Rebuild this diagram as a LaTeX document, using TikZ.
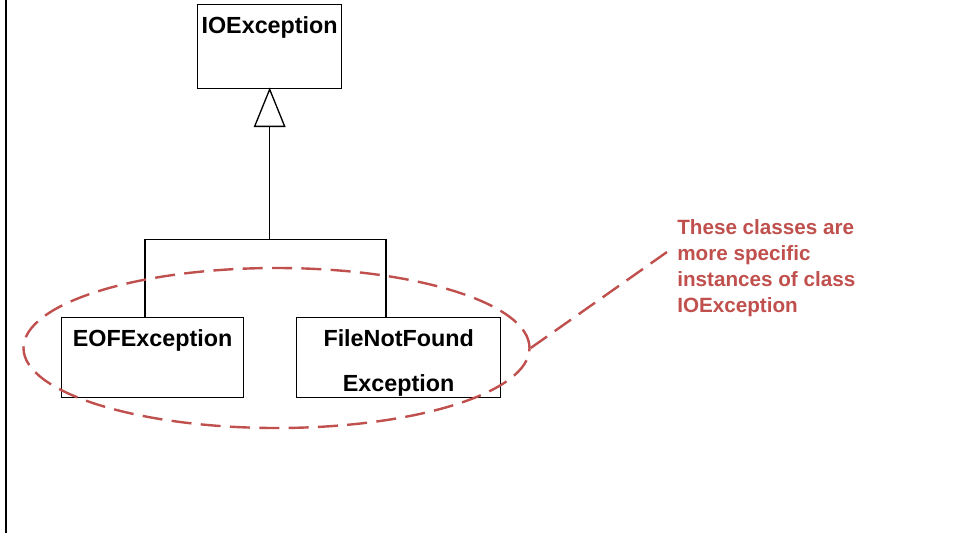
\documentclass[tikz,border=0pt]{standalone}
\usepackage{fontspec}
\setmainfont{Liberation Sans}
\usepackage{xcolor}
\usetikzlibrary{shapes.geometric,calc}
\definecolor{notered}{RGB}{192,80,77}

\begin{document}
\begin{tikzpicture}[x=0.75pt,y=-0.75pt,
  classbox/.style={draw,line width=1pt,inner sep=0pt,anchor=north west,align=center,
    font=\fontsize{17.5}{33.75}\selectfont\bfseries,text height=21.75pt},
  dashred/.style={notered,line width=1.8pt,dash pattern=on 15pt off 7pt}]
\useasboundingbox (0,0) rectangle (953,533);
\draw[line width=2pt] (6,0) -- (6,533);
% classes
\node[classbox,minimum width=108pt,text depth=41.25pt] (io) at (197,4) {IOException};
\node[classbox,minimum width=136.5pt,text depth=38.25pt] (eof) at (61,317) {EOFException};
\node[classbox,minimum width=153pt,text height=55.5pt,text depth=4.5pt] (fnf) at (296,317) {FileNotFound\\Exception};
% inheritance
\draw[line width=1pt] (io.south) -- ++(-15,37) -- ++(30,0) -- cycle;
\draw[line width=1pt] ($(io.south)+(0,37)$) -- ++(0,113) coordinate (fork);
\draw[line width=1pt] ($(eof.north west)+(84,0)$) |- (fork) -| ($(fnf.north west)+(90,0)$);
% note
\node[dashred,draw,ellipse,minimum width=379.5pt,minimum height=120pt,inner sep=0pt] (grp) at (276.5,348) {};
\node[notered,font=\fontsize{15.5}{19.5}\selectfont\bfseries,align=left,anchor=north west,inner sep=0pt] (note) at (677,219)
  {These classes are\\more specific\\instances of class\\IOException};
\draw[dashred] (grp.east) -- ($(note.north west)+(-10,33)$);
\end{tikzpicture}
\end{document}
